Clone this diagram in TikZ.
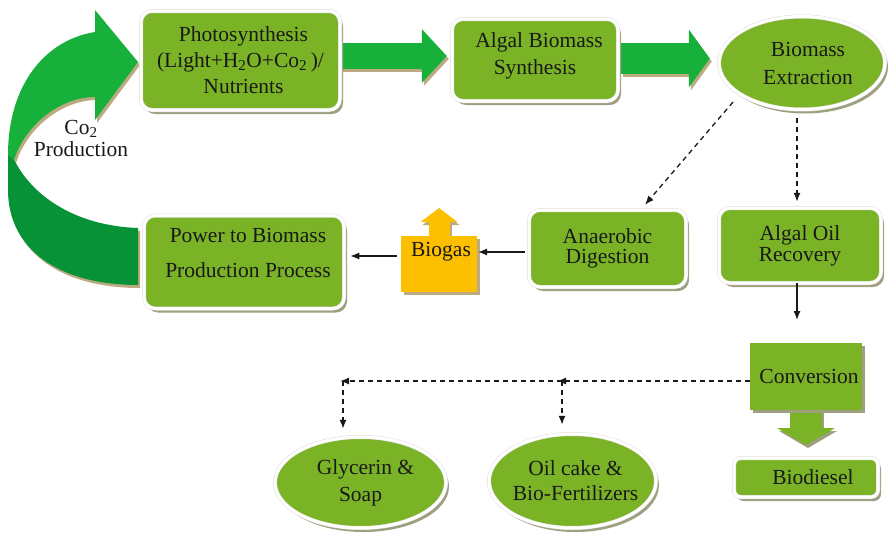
\documentclass[tikz,border=0pt]{standalone}
\usepackage{fontspec}
\setmainfont{Liberation Serif}
\usetikzlibrary{shapes.geometric,arrows.meta,shadows,calc,backgrounds}
\definecolor{white}{RGB}{255,255,255}
\definecolor{ink}{RGB}{25,25,25}
\definecolor{leaf_green}{RGB}{122,179,38}
\definecolor{arrow_green}{RGB}{22,176,58}
\definecolor{deep_green}{RGB}{8,146,56}
\definecolor{gas_yellow}{RGB}{252,192,0}
\definecolor{rim_grey}{RGB}{222,222,216}
\definecolor{box_shadow}{RGB}{158,158,128}
\definecolor{arrow_shadow}{RGB}{188,170,128}

\tikzset{
	txt/.style={font=\fontsize{21.5}{25}\selectfont,text=ink,align=center},
	greenbox/.style={txt,rectangle,rounded corners=11pt,fill=leaf_green,draw=rim_grey,double=white,double distance=3pt,line width=0.5pt,inner sep=0pt,drop shadow={shadow xshift=3pt,shadow yshift=-4pt,fill=box_shadow,opacity=1}},
	greenoval/.style={greenbox,ellipse,sharp corners,inner sep=-30pt},
	flatbox/.style={txt,rectangle,inner sep=0pt,outer sep=0pt,drop shadow={shadow xshift=3pt,shadow yshift=-3pt,fill=#1,opacity=1}},
	flow/.style={ink,line width=1.3pt,-{Latex[length=9pt,width=7pt]}},
	dflow/.style={flow,dash pattern=on 5pt off 4pt},
	fat/.style args={#1/#2/#3}{line width=#1,-{Triangle[length=#2,width=#3,line width=0pt]}}
}

\begin{document}
\begin{tikzpicture}[x=1pt,y=-1pt]
	\useasboundingbox (0,0) rectangle (888,533);

	% CO2 return ribbon
	\foreach \dx/\dy/\ca/\cb in {2/3/arrow_shadow/arrow_shadow,0/0/deep_green/arrow_green} {
		\fill[\ca,shift={(\dx,\dy)}] (8,150) -- (8,190) .. controls (8,250) and (60,285) .. (138,285) -- (138,228) .. controls (80,226) and (35,200) .. (14,160) -- cycle;
		\fill[\cb,shift={(\dx,\dy)}] (95,32) .. controls (45,40) and (8,85) .. (8,155) -- (14,160) .. controls (25,125) and (60,97) .. (95,97) -- (95,120) -- (138,62) -- (95,10) -- cycle;
	}
	\node[txt] (co2) at (81,138) {Co\textsubscript{2}\\[-3pt]Production};

	\node[greenbox,minimum width=199pt,minimum height=99pt] (photo) at (240.5,60.5) {\hspace*{6pt}Photosynthesis\\[1pt](Light+H\textsubscript{2}O+Co\textsubscript{2}\,)/\\[1pt]\hspace*{6pt}Nutrients};
	\node[greenbox,minimum width=166pt,minimum height=82pt,text depth=12pt] (algal) at (535,60) {\hspace*{8pt}Algal Biomass\\[2pt]Synthesis};
	\node[greenoval,minimum width=166pt,minimum height=93pt] (extract) at (802,63) {\hspace*{12pt}Biomass\\[3pt]\hspace*{12pt}Extraction};
	\node[greenbox,minimum width=157pt,minimum height=77pt] (anaerobic) at (607.5,248.5) {Anaerobic\\[-5pt]Digestion};
	\node[greenbox,minimum width=162pt,minimum height=75pt] (oilrec) at (800,245.5) {Algal Oil\\[-4pt]Recovery};
	\node[greenbox,minimum width=200pt,minimum height=93pt,text depth=19pt] (power) at (244,262) {\hspace*{8pt}Power to Biomass\\[10pt]\hspace*{8pt}Production Process};
	\node[flatbox=arrow_shadow,fill=gas_yellow,minimum width=76pt,minimum height=56pt,text depth=29pt] (biogas) at (439,264) {\hspace*{4pt}Biogas};
	\node[flatbox=box_shadow,fill=leaf_green,minimum width=112pt,minimum height=67pt] (conv) at (806,376.5) {\hspace*{6pt}Conversion};
	\node[greenbox,rounded corners=7pt,minimum width=144pt,minimum height=39pt] (diesel) at (806,477.5) {\hspace*{14pt}Biodiesel};
	\node[greenoval,minimum width=171pt,minimum height=91pt] (glycerin) at (360.5,482.5) {\hspace*{10pt}Glycerin \&\\[2pt]Soap};
	\node[greenoval,minimum width=167pt,minimum height=94pt] (oilcake) at (572.5,481) {\hspace*{6pt}Oil cake \&\\[0pt]\hspace*{6pt}Bio-Fertilizers};

	% block arrows
	\coordinate (f1s) at ($(photo.east)+(1,-4.5)$);
	\coordinate (f1e) at ($(algal.west)+(-5,-4)$);
	\coordinate (f2s) at ($(algal.east)+(3,-1.5)$);
	\coordinate (f2e) at ($(extract.west)+(-9,-4.5)$);
	\coordinate (f3e) at ($(biogas.north)+(0,-28)$);
	\coordinate (f4e) at ($(conv.south)+(0,35)$);
	\begin{pgfonlayer}{background}
		\foreach \s/\e/\c/\sh/\w/\l/\h in {f1s/f1e/arrow_green/arrow_shadow/26pt/25pt/54pt,
			f2s/f2e/arrow_green/arrow_shadow/31pt/21pt/58pt,
			biogas.north/f3e/gas_yellow/arrow_shadow/21pt/14pt/37pt,
			conv.south/f4e/leaf_green/box_shadow/32pt/17pt/58pt} {
			\draw[\sh,fat=\w/\l/\h,transform canvas={xshift=2pt,yshift=-3pt}] (\s) -- (\e);
			\draw[\c,fat=\w/\l/\h] (\s) -- (\e);
		}
	\end{pgfonlayer}

	\coordinate (oilfork) at (562,381);
	\coordinate (glyfork) at (343,381);

	\draw[dflow] ($(extract.center)+(-69,39)$) -- ($(anaerobic.north)+(37.5,-5)$);
	\draw[dflow] ($(extract.south)+(-5,8.5)$) -- ($(oilrec.north)+(-3,-6)$);
	\draw[flow] ($(oilrec.south)+(-3,0)$) -- ($(conv.north)+(-9,-23)$);
	\draw[flow,shorten <=4pt,shorten >=1pt] ([yshift=-3.5pt]anaerobic.west) -- ([yshift=12pt]biogas.east);
	\draw[flow,shorten <=4pt,shorten >=6pt] ([yshift=8pt]biogas.west) -- ([yshift=6pt]power.east);
	\draw[dflow] ($(conv.west)+(0,4.5)$) -- ([xshift=-5pt]oilfork);
	\draw[dflow] (oilfork) -- ([xshift=-3pt]glyfork);
	\draw[dflow,shorten >=8pt] (glyfork) -- (glyfork |- glycerin.north);
	\draw[dflow,shorten >=9pt] (oilfork) -- (oilfork |- oilcake.north);
\end{tikzpicture}
\end{document}
